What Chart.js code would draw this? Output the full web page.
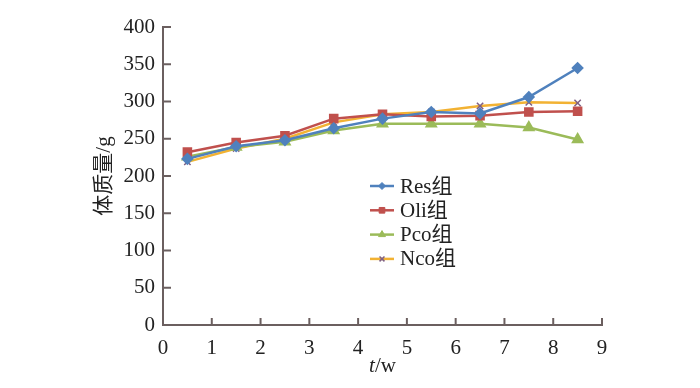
<!DOCTYPE html>
<html>
<head>
<meta charset="utf-8">
<script src="https://cdn.jsdelivr.net/npm/chart.js@4"></script>
<style>
  body { margin: 0; background: #fff; }
  #wrap { width: 700px; height: 388px; }
</style>
</head>
<body>
<div id="wrap"><canvas id="mychart"></canvas></div>
<script>
const weeks = [0.5, 1.5, 2.5, 3.5, 4.5, 5.5, 6.5, 7.5, 8.5];
const resData = [223, 240, 248, 264, 277, 286, 284, 306, 345];
const oliData = [232, 245, 254, 277, 283, 280, 281, 286, 287];
const pcoData = [226, 239, 246, 261, 270, 270, 270, 265, 249];
const ncoData = [219, 237, 250, 272, 283, 286, 294, 299, 298];
const seriesNames = ["Res组", "Oli组", "Pco组", "Nco组"];

const serif = "'Liberation Serif', 'Noto Sans CJK SC', serif";
const axisColor = "#6b5f5f";

function pts(vals) {
  return vals.map((v, i) => ({ x: weeks[i], y: v }));
}

// ticks pointing inward, axis titles and the legend inside the plot
const decor = {
  id: "decor",
  afterDraw(chart) {
    const ctx = chart.ctx;
    const xs = chart.scales.x;
    const ys = chart.scales.y;
    const area = chart.chartArea;
    ctx.save();
    ctx.strokeStyle = axisColor;
    ctx.lineWidth = 2;
    for (let v = 0; v <= 9; v++) {
      const px = xs.getPixelForValue(v);
      ctx.beginPath();
      ctx.moveTo(px, area.bottom);
      ctx.lineTo(px, area.bottom - 7);
      ctx.stroke();
    }
    for (let v = 0; v <= 400; v += 50) {
      const py = ys.getPixelForValue(v);
      ctx.beginPath();
      ctx.moveTo(area.left, py);
      ctx.lineTo(area.left + 8, py);
      ctx.stroke();
    }

    // x title
    ctx.fillStyle = "#222";
    ctx.textBaseline = "middle";
    ctx.textAlign = "left";
    const cx = (area.left + area.right) / 2;
    ctx.font = "italic 21px " + serif;
    const tw = ctx.measureText("t").width;
    ctx.font = "21px " + serif;
    const rw = ctx.measureText("/w").width;
    const sx = cx - (tw + rw) / 2;
    ctx.font = "italic 21px " + serif;
    ctx.fillText("t", sx, 366);
    ctx.font = "21px " + serif;
    ctx.fillText("/w", sx + tw, 366);

    // y title
    ctx.save();
    ctx.translate(104, (area.top + area.bottom) / 2);
    ctx.rotate(-Math.PI / 2);
    ctx.textAlign = "center";
    ctx.font = "21px " + serif;
    ctx.fillText("体质量/g", 0, 0);
    ctx.restore();

    // legend
    const lx = 370, ly0 = 186, step = 24.3;
    chart.data.datasets.forEach((ds, i) => {
      const y = ly0 + i * step;
      ctx.strokeStyle = ds.borderColor;
      ctx.lineWidth = 2.5;
      ctx.beginPath();
      ctx.moveTo(lx, y);
      ctx.lineTo(lx + 24, y);
      ctx.stroke();
      ctx.save();
      ctx.fillStyle = ds.pointBackgroundColor;
      ctx.strokeStyle = ds.pointBorderColor;
      ctx.lineWidth = ds.pointBorderWidth || 1;
      Chart.helpers.drawPoint(ctx, {
        pointStyle: ds.pointStyle,
        radius: ds.pointRadius - 1,
        borderWidth: ds.pointBorderWidth || 1
      }, lx + 12, y);
      ctx.restore();
      ctx.fillStyle = "#222";
      ctx.textAlign = "left";
      ctx.font = "21px " + serif;
      ctx.fillText(seriesNames[i], lx + 30, y + 1);
    });
    ctx.restore();
  }
};

const chart = new Chart(document.getElementById("mychart").getContext("2d"), {
  type: "line",
  data: {
    datasets: [
      {
        label: seriesNames[0],
        data: pts(resData),
        borderColor: "#4F81BD",
        borderWidth: 2.5,
        pointStyle: "rectRot",
        pointRadius: 4.5,
        pointBackgroundColor: "#4F81BD",
        pointBorderColor: "#4F81BD",
      },
      {
        label: seriesNames[1],
        data: pts(oliData),
        borderColor: "#C0504D",
        borderWidth: 2.5,
        pointStyle: "rect",
        pointRadius: 5,
        pointBackgroundColor: "#C0504D",
        pointBorderColor: "#C0504D",
      },
      {
        label: seriesNames[2],
        data: pts(pcoData),
        borderColor: "#9BBB59",
        borderWidth: 2.5,
        pointStyle: "triangle",
        pointRadius: 5,
        pointBackgroundColor: "#9BBB59",
        pointBorderColor: "#9BBB59",
      },
      {
        label: seriesNames[3],
        data: pts(ncoData),
        borderColor: "#F2B233",
        borderWidth: 2.5,
        pointStyle: "crossRot",
        pointRadius: 4.5,
        pointBackgroundColor: "#7F6084",
        pointBorderColor: "#7F6084",
        pointBorderWidth: 1.5,
      },
    ],
  },
  options: {
    responsive: true,
    maintainAspectRatio: false,
    animation: false,
    layout: {
      padding: { left: 0, right: 98, top: 27, bottom: 0 },
    },
    plugins: {
      legend: { display: false },
      tooltip: { enabled: false },
    },
    scales: {
      x: {
        type: "linear",
        min: 0,
        max: 9,
        border: { color: axisColor, width: 2 },
        grid: { display: false },
        ticks: {
          stepSize: 1,
          color: "#222",
          padding: 3,
          font: { family: serif, size: 21 },
          maxRotation: 0,
        },
        afterFit(scale) { scale.height = 63; },
      },
      y: {
        min: 0,
        max: 400,
        border: { color: axisColor, width: 2 },
        grid: { display: false },
        ticks: {
          stepSize: 50,
          color: "#222",
          padding: 0,
          font: { family: serif, size: 21 },
        },
        afterFit(scale) { scale.width = 163; },
      },
    },
  },
  plugins: [decor],
});
</script>
</body>
</html>
